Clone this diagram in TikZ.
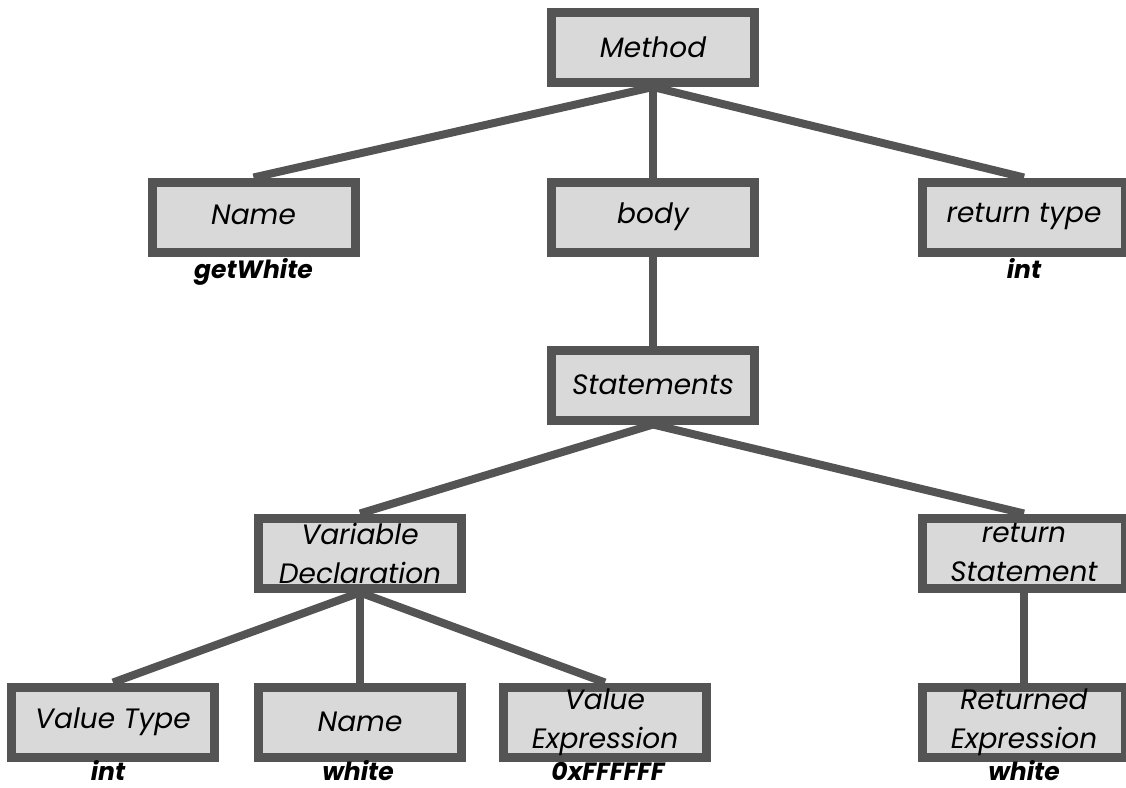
\documentclass[tikz,border=0pt]{standalone}
\usepackage{fontspec}
\setmainfont{Poppins}
\pgfdeclarelayer{bg}
\pgfsetlayers{bg,main}
\definecolor{boxfill}{HTML}{D9D9D9}
\definecolor{boxline}{HTML}{545454}
\newcommand{\uptext}[1]{\raisebox{5pt}{#1}}
\tikzset{
  treebox/.style={draw=boxline, fill=boxfill, line width=9pt, rectangle,
    minimum width=203pt, minimum height=70pt, inner sep=0pt, align=center,
    font=\fontsize{28}{39}\selectfont\itshape},
  valuelabel/.style={anchor=base, inner sep=0pt,
    font=\fontsize{25}{29}\selectfont\bfseries\itshape},
  link/.style={draw=boxline, line width=8pt}
}
\begin{document}
\begin{tikzpicture}[x=1pt, y=-1pt]
\useasboundingbox (0,0) rectangle (1126,787);

% tree nodes
\node[treebox] (method) at (653,47.5) {Method};
\node[treebox] (name) at (253.5,217) {\uptext{Name}};
\node[treebox] (body) at (653,217) {\uptext{body}};
\node[treebox] (rettype) at (1024,217) {\uptext{return type}};
\node[treebox] (stmts) at (653,385) {Statements};
\node[treebox] (vardecl) at (360,553) {Variable\\Declaration};
\node[treebox] (retstmt) at (1024,553) {return\\Statement};
\node[treebox] (valtype) at (113,722) {\raisebox{-2pt}{Value Type}};
\node[treebox] (varname) at (360,722) {Name};
\node[treebox] (valexpr) at (605,722) {Value\\Expression};
\node[treebox] (retexpr) at (1024,722) {Returned\\Expression};

% values printed under the leaves
\node[valuelabel] (l1) at (253.5,278) {getWhite};
\node[valuelabel] (l2) at (1024,278) {int};
\node[valuelabel] (l3) at (108,780) {int};
\node[valuelabel] (l4) at (358,780) {white};
\node[valuelabel] (l5) at (608,780) {0xFFFFFF};
\node[valuelabel] (l6) at (1024,780) {white};

% connectors behind the boxes
\begin{pgfonlayer}{bg}
\draw[link] (method.south) -- (name.north);
\draw[link] (method.south) -- (body.north);
\draw[link] (method.south) -- (rettype.north);
\draw[link] (body.south) -- (stmts.north);
\draw[link] (stmts.south) -- (vardecl.north);
\draw[link] (stmts.south) -- (retstmt.north);
\draw[link] (vardecl.south) -- (valtype.north);
\draw[link] (vardecl.south) -- (varname.north);
\draw[link] (vardecl.south) -- (valexpr.north);
\draw[link] (retstmt.south) -- (retexpr.north);
\end{pgfonlayer}
\end{tikzpicture}
\end{document}
